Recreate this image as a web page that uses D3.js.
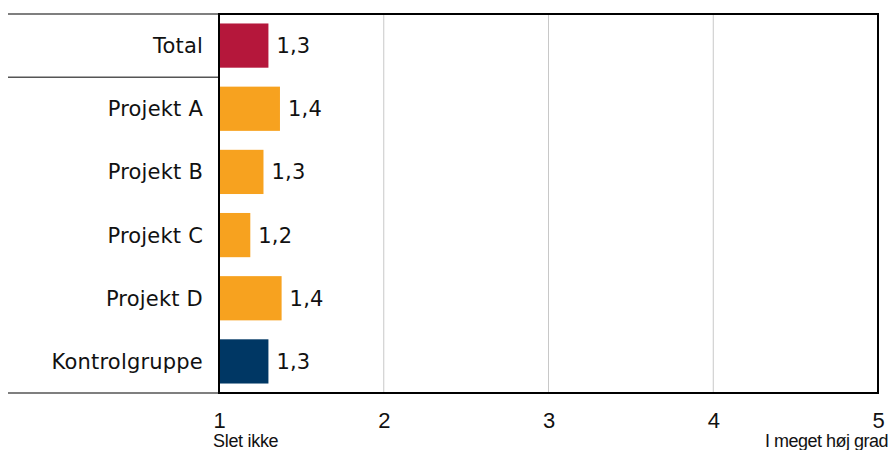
<!DOCTYPE html>
<html>
<head>
<meta charset="utf-8">
<script src="https://cdn.jsdelivr.net/npm/d3@7"></script>
<style>
  body { margin: 0; background: #fff; }
</style>
</head>
<body>
<script>
var categories = ["Total", "Projekt A", "Projekt B", "Projekt C", "Projekt D", "Kontrolgruppe"];
var values = [1.3, 1.37, 1.27, 1.19, 1.38, 1.3];
var valueLabels = ["1,3", "1,4", "1,3", "1,2", "1,4", "1,3"];
var barColors = ["#b5173b", "#f7a21f", "#f7a21f", "#f7a21f", "#f7a21f", "#003764"];
var ticks = [1, 2, 3, 4, 5];

var width = 891, height = 450;
var plotLeft = 219, plotRight = 878, plotTop = 14, plotBottom = 393;

var svg = d3.select("body").append("svg")
    .attr("width", width)
    .attr("height", height);

var x = d3.scaleLinear().domain([1, 5]).range([plotLeft, plotRight]);
var y = d3.scaleBand().domain(categories).range([plotTop, plotBottom]).paddingInner(0.3).paddingOuter(0.15);

// gridlines
svg.append("g").selectAll("line")
    .data(ticks.slice(1, -1))
    .enter().append("line")
    .attr("x1", d => x(d)).attr("x2", d => x(d))
    .attr("y1", plotTop).attr("y2", plotBottom)
    .attr("stroke", "#c8c8c8").attr("stroke-width", 1);

// bars
svg.append("g").selectAll("rect")
    .data(categories)
    .enter().append("rect")
    .attr("x", x(1))
    .attr("y", d => y(d))
    .attr("width", (d, i) => x(values[i]) - x(1))
    .attr("height", y.bandwidth())
    .attr("fill", (d, i) => barColors[i]);

// value labels
svg.append("g").selectAll("text")
    .data(categories)
    .enter().append("text")
    .attr("x", (d, i) => x(values[i]) + 8)
    .attr("y", d => y(d) + y.bandwidth() / 2)
    .attr("dy", "0.36em")
    .attr("font-family", "DejaVu Sans, Verdana, sans-serif")
    .attr("font-size", "21px")
    .attr("letter-spacing", "0.2px")
    .attr("fill", "#111")
    .text((d, i) => valueLabels[i]);

// category labels
svg.append("g").selectAll("text")
    .data(categories)
    .enter().append("text")
    .attr("x", plotLeft - 16)
    .attr("y", d => y(d) + y.bandwidth() / 2)
    .attr("dy", "0.36em")
    .attr("text-anchor", "end")
    .attr("font-family", "DejaVu Sans, Verdana, sans-serif")
    .attr("font-size", "21px")
    .attr("letter-spacing", "0.2px")
    .attr("fill", "#111")
    .text(d => d);

// separator lines on the left
var step = y.step();
[plotTop, plotTop + step, plotBottom].forEach(function(yy) {
    svg.append("line")
        .attr("x1", 8).attr("x2", plotLeft).attr("y1", yy).attr("y2", yy)
        .attr("stroke", "#555").attr("stroke-width", 1.5);
});

// plot frame
svg.append("rect")
    .attr("x", plotLeft).attr("y", plotTop)
    .attr("width", plotRight - plotLeft).attr("height", plotBottom - plotTop)
    .attr("fill", "none").attr("stroke", "#000").attr("stroke-width", 2);

// x axis tick labels
var axis = svg.append("g")
    .attr("transform", "translate(0," + (plotBottom + 35) + ")")
    .call(d3.axisBottom(x).tickValues(ticks).tickSize(0).tickPadding(0).tickFormat(d3.format("d")));
axis.select(".domain").remove();
axis.selectAll("text")
    .attr("y", 0)
    .attr("dy", 0)
    .attr("font-family", "Liberation Sans, Arial, sans-serif")
    .attr("font-size", "22px")
    .attr("fill", "#111");

svg.append("text")
    .attr("x", x(1) - 6)
    .attr("y", plotBottom + 54)
    .attr("font-family", "Liberation Sans, Arial, sans-serif")
    .attr("font-size", "18px")
    .attr("letter-spacing", "-0.3px")
    .attr("fill", "#111")
    .text("Slet ikke");

svg.append("text")
    .attr("x", x(5) + 10)
    .attr("y", plotBottom + 54)
    .attr("text-anchor", "end")
    .attr("font-family", "Liberation Sans, Arial, sans-serif")
    .attr("font-size", "18px")
    .attr("letter-spacing", "-0.5px")
    .attr("fill", "#111")
    .text("I meget høj grad");
</script>
</body>
</html>
